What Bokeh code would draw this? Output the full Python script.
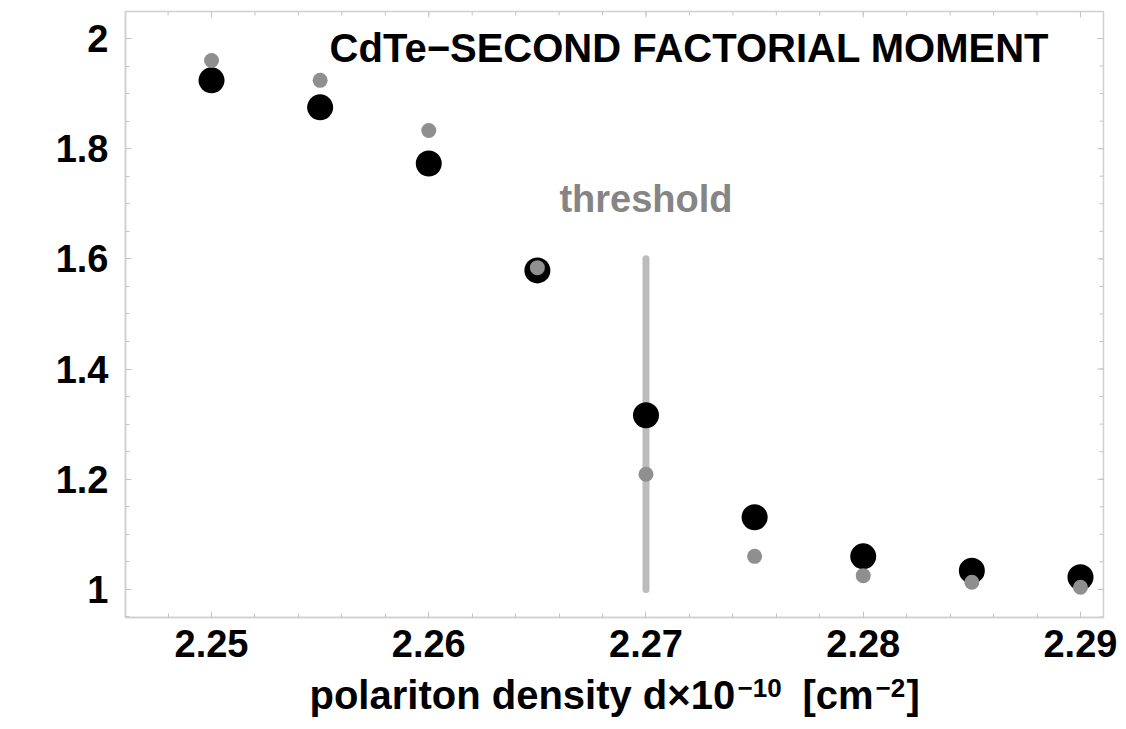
import numpy as np
from bokeh.plotting import figure
from bokeh.layouts import column
from bokeh.models import Range1d, FixedTicker, LinearAxis, Label
from bokeh.embed import file_html
from bokeh.resources import INLINE

# ---- data ----
density = [2.25, 2.255, 2.26, 2.265, 2.27, 2.275, 2.28, 2.285, 2.29]
moment_black = [1.924, 1.875, 1.773, 1.579, 1.316, 1.131, 1.060, 1.034, 1.022]
moment_gray = [1.960, 1.924, 1.833, 1.584, 1.209, 1.060, 1.025, 1.013, 1.004]
threshold_x = [2.27, 2.27]
threshold_y = [1.0, 1.6]
x_ticks = [2.25, 2.26, 2.27, 2.28, 2.29]
x_tick_labels = ["2.25", "2.26", "2.27", "2.28", "2.29"]
y_ticks = [1.0, 1.2, 1.4, 1.6, 1.8, 2.0]
y_tick_labels = ["1", "1.2", "1.4", "1.6", "1.8", "2"]
title_text = "CdTe\u2212SECOND FACTORIAL MOMENT"
threshold_text = "threshold"
# x-axis label pieces: text, superscript?
xlabel_texts = ["polariton density d\u00d710", "\u221210", "[cm", "\u22122", "]"]
xlabel_sup = [False, True, False, True, False]
# layout (pixel) positions of the pieces in the label strip
xlabel_left_px = [309, 737, 802, 875, 906]

FONT = "Liberation Sans"
X0, X1 = 2.24604, 2.29106
Y0, Y1 = 0.949, 2.049
W_TOTAL, H_MAIN = 1126, 672
H_LABEL = 729 - H_MAIN
FRAME_L, FRAME_R = 125, 1103

p = figure(width=W_TOTAL, height=H_MAIN, output_backend="svg", toolbar_location=None,
           x_range=Range1d(X0, X1), y_range=Range1d(Y0, Y1),
           x_axis_type=None, y_axis_type=None,
           min_border_left=FRAME_L, min_border_right=W_TOTAL - FRAME_R, min_border_top=11,
           min_border_bottom=H_MAIN - 617)
p.xgrid.visible = False
p.ygrid.visible = False
p.background_fill_color = "white"
p.border_fill_color = "white"
p.outline_line_color = "#d0d0d0"
p.outline_line_width = 1.5

x_minor = [float(v) for v in np.round(np.arange(2.246, 2.2911, 0.002), 4)]
y_minor = [float(v) for v in np.round(np.arange(0.95, 2.05, 0.05), 3)]

TICK_COLOR = "#c4c4c4"

def style_axis(ax, ticks, labels, minor, standoff):
    ax.ticker = FixedTicker(ticks=ticks, minor_ticks=minor)
    ax.major_label_overrides = {t: l for t, l in zip(ticks, labels)}
    ax.axis_line_color = "#d0d0d0"
    ax.axis_line_width = 1.5
    ax.major_tick_line_color = TICK_COLOR
    ax.minor_tick_line_color = TICK_COLOR
    ax.major_tick_in = 6
    ax.major_tick_out = 0
    ax.minor_tick_in = 4
    ax.minor_tick_out = 0
    ax.major_label_text_font = FONT
    ax.major_label_text_font_style = "bold"
    ax.major_label_text_color = "black"
    ax.major_label_text_font_size = "38px"
    ax.major_label_standoff = standoff

xb = LinearAxis()
style_axis(xb, x_ticks, x_tick_labels, x_minor, 12)
p.add_layout(xb, "below")

yl = LinearAxis()
style_axis(yl, y_ticks, y_tick_labels, y_minor, 17)
p.add_layout(yl, "left")

# frame ticks on top and right edges
p.ray(x=x_ticks, y=[Y1] * len(x_ticks), length=6, length_units="screen",
      angle=-90, angle_units="deg", line_color=TICK_COLOR, line_width=1)
p.ray(x=x_minor, y=[Y1] * len(x_minor), length=4, length_units="screen",
      angle=-90, angle_units="deg", line_color=TICK_COLOR, line_width=1)
p.ray(x=[X1] * len(y_ticks), y=y_ticks, length=6, length_units="screen",
      angle=180, angle_units="deg", line_color=TICK_COLOR, line_width=1)
p.ray(x=[X1] * len(y_minor), y=y_minor, length=4, length_units="screen",
      angle=180, angle_units="deg", line_color=TICK_COLOR, line_width=1)

# threshold line
p.line(threshold_x, threshold_y, line_color="#bcbcbc", line_width=7, line_cap="round")

# points
p.scatter(density, moment_black, size=26, fill_color="black", line_color=None)
p.scatter(density, moment_gray, size=15, fill_color="#8f8f8f", line_color=None)

p.add_layout(Label(x=2.27, y=1.709, text=threshold_text, text_align="center",
                   text_baseline="middle", text_font=FONT, text_font_style="bold",
                   text_font_size="38px", text_color="#858585"))
p.add_layout(Label(x=2.2720, y=1.983, text=title_text, text_align="center",
                   text_baseline="middle", text_font=FONT, text_font_style="bold",
                   text_font_size="40px", text_color="black"))

# strip below holding the x-axis label (normal text + superscripts);
# its frame is aligned with the main frame, so x is given in page pixels
q = figure(width=W_TOTAL, height=H_LABEL, output_backend="svg", toolbar_location=None,
           x_range=Range1d(FRAME_L, FRAME_R), y_range=Range1d(0, H_LABEL),
           x_axis_type=None, y_axis_type=None,
           min_border_left=FRAME_L, min_border_right=W_TOTAL - FRAME_R,
           min_border_top=0, min_border_bottom=0)
q.xgrid.visible = False
q.ygrid.visible = False
q.outline_line_color = None
q.background_fill_color = "white"
q.border_fill_color = "white"
for txt, sup, left in zip(xlabel_texts, xlabel_sup, xlabel_left_px):
    q.add_layout(Label(x=left, y=H_LABEL - (15 if sup else 22), text=txt, text_align="left",
                       text_baseline="middle", text_font=FONT, text_font_style="bold",
                       text_font_size="26px" if sup else "40px", text_color="black"))

layout = column(p, q, spacing=0)
open("out.html", "w").write(file_html(layout, INLINE))
